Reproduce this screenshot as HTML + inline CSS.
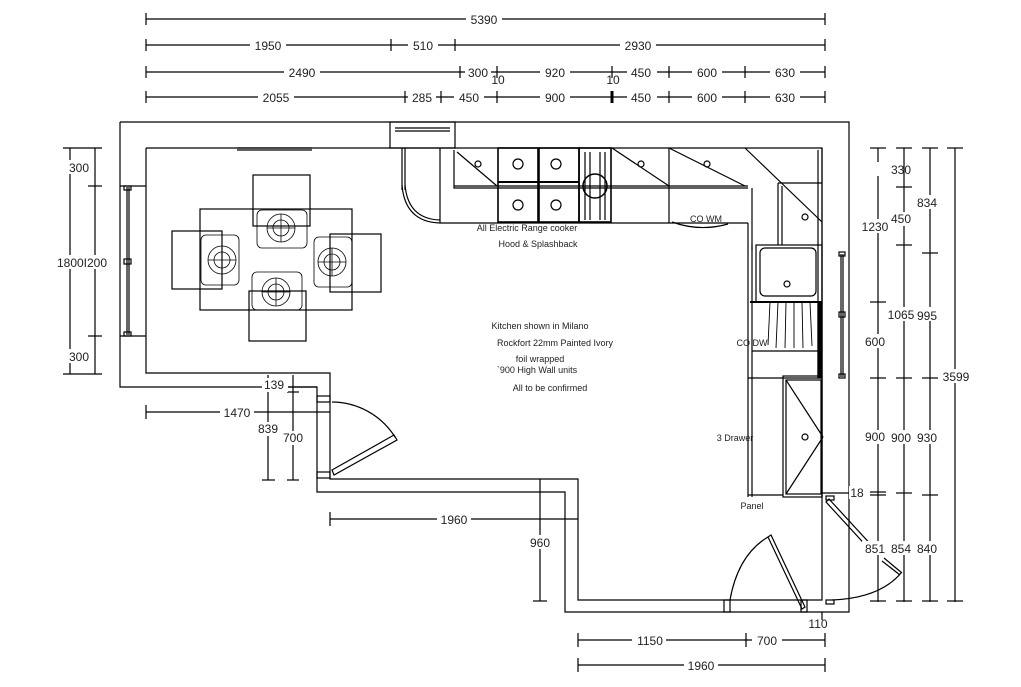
<!DOCTYPE html><html><head><style>body{margin:0;background:#fff}svg{display:block}text{font-family:"Liberation Sans",sans-serif;fill:#222}</style></head><body>
<svg width="1021" height="687" viewBox="0 0 1021 687" stroke="#000" fill="none" stroke-width="1.2">
<!-- top dims -->
<g>
<line x1="146" y1="19" x2="825" y2="19"/><line x1="146" y1="13" x2="146" y2="25"/><line x1="825" y1="13" x2="825" y2="25"/>
<line x1="146" y1="45" x2="825" y2="45"/><line x1="146" y1="39" x2="146" y2="51"/><line x1="391" y1="39" x2="391" y2="51"/><line x1="455" y1="39" x2="455" y2="51"/><line x1="825" y1="39" x2="825" y2="51"/>
<line x1="146" y1="72" x2="825" y2="72"/><line x1="146" y1="66" x2="146" y2="78"/><line x1="460" y1="66" x2="460" y2="78"/><line x1="497" y1="66" x2="497" y2="78"/><line x1="612" y1="66" x2="612" y2="78"/><line x1="669" y1="66" x2="669" y2="78"/><line x1="745" y1="66" x2="745" y2="78"/><line x1="825" y1="66" x2="825" y2="78"/>
<line x1="146" y1="97" x2="825" y2="97"/><line x1="146" y1="91" x2="146" y2="103"/><line x1="405" y1="91" x2="405" y2="103"/><line x1="441" y1="91" x2="441" y2="103"/><line x1="497" y1="91" x2="497" y2="103"/><line x1="612" y1="91" x2="612" y2="103" stroke-width="3"/><line x1="669" y1="91" x2="669" y2="103"/><line x1="745" y1="91" x2="745" y2="103"/><line x1="825" y1="91" x2="825" y2="103"/>
</g>
<g stroke="none" font-size="12" text-anchor="middle">
<rect x="466" y="12" width="36" height="14" fill="#fff"/><text x="484" y="24">5390</text>
<rect x="250" y="38" width="36" height="14" fill="#fff"/><text x="268" y="50">1950</text>
<rect x="408" y="38" width="30" height="14" fill="#fff"/><text x="423" y="50">510</text>
<rect x="620" y="38" width="36" height="14" fill="#fff"/><text x="638" y="50">2930</text>
<rect x="284" y="65" width="36" height="14" fill="#fff"/><text x="302" y="77">2490</text>
<rect x="465" y="65" width="26" height="14" fill="#fff"/><text x="478" y="77">300</text>
<text x="498" y="84">10</text>
<rect x="540" y="65" width="30" height="14" fill="#fff"/><text x="555" y="77">920</text>
<text x="613" y="84">10</text>
<rect x="627" y="65" width="30" height="14" fill="#fff"/><text x="641" y="77">450</text>
<rect x="692" y="65" width="30" height="14" fill="#fff"/><text x="707" y="77">600</text>
<rect x="770" y="65" width="30" height="14" fill="#fff"/><text x="785" y="77">630</text>
<rect x="258" y="90" width="36" height="14" fill="#fff"/><text x="276" y="102">2055</text>
<rect x="408" y="90" width="28" height="14" fill="#fff"/><text x="422" y="102">285</text>
<rect x="454" y="90" width="30" height="14" fill="#fff"/><text x="469" y="102">450</text>
<rect x="540" y="90" width="30" height="14" fill="#fff"/><text x="555" y="102">900</text>
<rect x="627" y="90" width="30" height="14" fill="#fff"/><text x="641" y="102">450</text>
<rect x="692" y="90" width="30" height="14" fill="#fff"/><text x="707" y="102">600</text>
<rect x="770" y="90" width="30" height="14" fill="#fff"/><text x="785" y="102">630</text>
</g>
<!-- walls -->
<polyline points="120,122 849,122 849,612 565,612 565,492 317,492 317,387 120,387 120,122"/>
<polyline points="146,148 822,148 822,600 578,600 578,479 330,479 330,373 146,373 146,148"/>
<rect x="390" y="122" width="65" height="26"/><line x1="395" y1="128" x2="450" y2="128"/><line x1="395" y1="131" x2="450" y2="131"/>
<line x1="237" y1="148" x2="312" y2="148"/><line x1="237" y1="150" x2="312" y2="150"/>
<!-- left window -->
<line x1="120" y1="186" x2="146" y2="186"/><line x1="120" y1="336" x2="146" y2="336"/>
<line x1="127" y1="187" x2="127" y2="335"/><line x1="129" y1="187" x2="129" y2="335"/>
<rect x="124" y="186" width="7" height="4"/><rect x="124" y="259" width="7" height="5"/><rect x="124" y="332" width="7" height="4"/>
<!-- right window -->
<line x1="841" y1="254" x2="841" y2="377"/><line x1="843" y1="254" x2="843" y2="377"/>
<rect x="839" y="252" width="6" height="4"/><rect x="839" y="312" width="6" height="5"/><rect x="839" y="374" width="6" height="4"/>
<!-- table -->
<rect x="200" y="209" width="152" height="101"/>
<rect x="253" y="175" width="57" height="51"/><rect x="172" y="231" width="50" height="58"/><rect x="330" y="234" width="51" height="58"/><rect x="249" y="291" width="57" height="50"/>
<g stroke-width="0.8">
<rect x="257" y="210" width="50" height="38" rx="5"/><circle cx="281" cy="228" r="14"/><circle cx="281" cy="228" r="8"/><line x1="267" y1="228" x2="295" y2="228"/><line x1="281" y1="214" x2="281" y2="242"/>
<rect x="201" y="235" width="38" height="50" rx="5"/><circle cx="222" cy="260" r="14"/><circle cx="222" cy="260" r="8"/><line x1="208" y1="260" x2="236" y2="260"/><line x1="222" y1="246" x2="222" y2="274"/>
<rect x="314" y="237" width="38" height="50" rx="5"/><circle cx="332" cy="262" r="14"/><circle cx="332" cy="262" r="8"/><line x1="318" y1="262" x2="346" y2="262"/><line x1="332" y1="248" x2="332" y2="276"/>
<rect x="252" y="272" width="50" height="38" rx="5"/><circle cx="276" cy="292" r="14"/><circle cx="276" cy="292" r="8"/><line x1="262" y1="292" x2="290" y2="292"/><line x1="276" y1="278" x2="276" y2="306"/>
</g>
<!-- top cabinets -->
<line x1="402" y1="148" x2="402" y2="190"/><line x1="405" y1="148" x2="405" y2="190"/>
<path d="M402 185 Q405 222 440 223 L748 223"/><path d="M405 185 Q408 219 440 220"/>
<line x1="440" y1="148" x2="440" y2="223"/>
<polyline points="454,150 454,188 748,188"/><line x1="454" y1="186" x2="748" y2="186"/>
<line x1="457" y1="152" x2="497" y2="186"/><circle cx="478" cy="164" r="3"/>
<rect x="498" y="148" width="40" height="74" stroke-width="1.6"/><rect x="539" y="148" width="40" height="74" stroke-width="1.6"/><rect x="579" y="148" width="32" height="74" stroke-width="1.6"/>
<circle cx="518" cy="164" r="5"/><circle cx="518" cy="205" r="5"/><circle cx="556" cy="164" r="5"/><circle cx="556" cy="205" r="5"/>
<line x1="498" y1="182" x2="579" y2="182" stroke-width="2"/>
<circle cx="595" cy="186" r="12" stroke-width="1.5"/><line x1="585" y1="152" x2="585" y2="220"/><line x1="590" y1="152" x2="590" y2="220"/><line x1="600" y1="152" x2="600" y2="220"/><line x1="605" y1="152" x2="605" y2="220"/>
<line x1="612" y1="148" x2="669" y2="186"/><circle cx="641" cy="164" r="3"/>
<line x1="669" y1="148" x2="669" y2="223"/><line x1="669" y1="148" x2="745" y2="186"/><circle cx="707" cy="164" r="3"/>
<path d="M672 222 Q700 232 728 224"/>
<!-- corner -->
<line x1="745" y1="148" x2="822" y2="222"/><circle cx="805" cy="217" r="3"/>
<polyline points="752,188 752,250"/><polyline points="778,183 778,245"/><polyline points="778,183 822,183"/><line x1="782" y1="186" x2="782" y2="245"/>
<line x1="822" y1="148" x2="822" y2="497"/><line x1="818" y1="150" x2="818" y2="378"/>
<!-- right run -->
<line x1="748" y1="223" x2="748" y2="497"/><line x1="752" y1="245" x2="752" y2="497"/>
<rect x="756" y="245" width="66" height="57"/><rect x="760" y="248" width="56" height="48" rx="5"/><circle cx="787" cy="284" r="3"/>
<line x1="750" y1="302" x2="822" y2="302" stroke-width="2"/>
<rect x="818" y="302" width="4" height="76" fill="#000"/>
<g stroke-width="0.9"><line x1="770" y1="302" x2="768" y2="345"/><line x1="778" y1="302" x2="776" y2="348"/><line x1="786" y1="302" x2="785" y2="348"/><line x1="794" y1="302" x2="794" y2="348"/><line x1="802" y1="302" x2="803" y2="348"/><line x1="810" y1="302" x2="812" y2="346"/></g>
<line x1="752" y1="351" x2="818" y2="351"/>
<line x1="748" y1="378" x2="822" y2="378"/>
<rect x="783" y="376" width="39" height="121"/><rect x="786" y="380" width="35" height="114"/>
<line x1="786" y1="380" x2="823" y2="437"/><line x1="786" y1="494" x2="823" y2="437"/><circle cx="805" cy="437" r="3"/>
<line x1="748" y1="495" x2="783" y2="495"/>
<!-- left door -->
<rect x="317" y="396" width="13" height="6"/><rect x="317" y="472" width="13" height="6"/>
<path d="M332 402 A75 75 0 0 1 395 437"/>
<polygon points="332,470 394,435 397,440 334,475"/>
<!-- right door -->
<rect x="826" y="496" width="8" height="4"/><rect x="826" y="600" width="8" height="4"/>
<polygon points="829,499 874,548 871,551 826,502"/>
<line x1="884" y1="558" x2="902" y2="573"/><line x1="882" y1="561" x2="900" y2="575"/>
<path d="M832 600 Q880 598 901 573"/>
<!-- bottom door -->
<rect x="724" y="600" width="6" height="12"/><rect x="801" y="600" width="6" height="12"/>
<polygon points="768,537 771,535 805,607 802,609"/>
<path d="M730 600 Q738 555 768 537"/>
<!-- right dims -->
<g>
<line x1="878" y1="148" x2="878" y2="602"/><line x1="904" y1="148" x2="904" y2="602"/><line x1="930" y1="148" x2="930" y2="602"/><line x1="955" y1="148" x2="955" y2="602"/>
<line x1="870" y1="148" x2="886" y2="148"/><line x1="870" y1="302" x2="886" y2="302"/><line x1="870" y1="378" x2="886" y2="378"/><line x1="870" y1="492" x2="886" y2="492"/><line x1="870" y1="495" x2="886" y2="495"/><line x1="870" y1="601" x2="886" y2="601"/>
<line x1="896" y1="148" x2="912" y2="148"/><line x1="896" y1="187" x2="912" y2="187"/><line x1="896" y1="245" x2="912" y2="245"/><line x1="896" y1="378" x2="912" y2="378"/><line x1="896" y1="493" x2="912" y2="493"/><line x1="896" y1="601" x2="912" y2="601"/>
<line x1="922" y1="148" x2="938" y2="148"/><line x1="922" y1="253" x2="938" y2="253"/><line x1="922" y1="378" x2="938" y2="378"/><line x1="922" y1="495" x2="938" y2="495"/><line x1="922" y1="601" x2="938" y2="601"/>
<line x1="947" y1="148" x2="963" y2="148"/><line x1="947" y1="601" x2="963" y2="601"/>
<line x1="822" y1="493" x2="860" y2="493"/>
</g>
<!-- left dims -->
<line x1="70" y1="148" x2="70" y2="374"/><line x1="95" y1="148" x2="95" y2="374"/>
<line x1="63" y1="148" x2="102" y2="148"/><line x1="88" y1="186" x2="102" y2="186"/><line x1="88" y1="336" x2="102" y2="336"/><line x1="63" y1="374" x2="102" y2="374"/>
<!-- lower dims -->
<line x1="146" y1="412" x2="330" y2="412"/><line x1="146" y1="405" x2="146" y2="419"/>
<line x1="268" y1="375" x2="268" y2="480"/><line x1="262" y1="480" x2="275" y2="480"/>
<line x1="293" y1="375" x2="293" y2="480"/><line x1="287" y1="480" x2="299" y2="480"/><line x1="287" y1="392" x2="299" y2="392"/>
<line x1="268" y1="387" x2="317" y2="387"/>
<line x1="330" y1="519" x2="578" y2="519"/><line x1="330" y1="512" x2="330" y2="526"/>
<line x1="540" y1="479" x2="540" y2="601"/><line x1="533" y1="601" x2="547" y2="601"/>
<line x1="578" y1="640" x2="825" y2="640"/><line x1="578" y1="633" x2="578" y2="647"/><line x1="746" y1="633" x2="746" y2="647"/><line x1="825" y1="633" x2="825" y2="647"/>
<line x1="578" y1="665" x2="825" y2="665"/><line x1="578" y1="658" x2="578" y2="672"/><line x1="825" y1="658" x2="825" y2="672"/>
<line x1="822" y1="612" x2="822" y2="620"/>
<g stroke="none" font-size="12" text-anchor="middle">
<rect x="870" y="162" width="28" height="14" fill="#fff"/><text x="901" y="174">330</text>
<rect x="860" y="219" width="30" height="14" fill="#fff"/><text x="875" y="231">1230</text><rect x="888" y="212" width="26" height="14" fill="#fff"/><text x="901" y="223">450</text>
<rect x="916" y="195" width="28" height="14" fill="#fff"/><text x="927" y="207">834</text>
<rect x="886" y="307" width="54" height="14" fill="#fff"/><text x="901" y="319">1065</text><text x="927" y="320">995</text>
<rect x="864" y="334" width="24" height="14" fill="#fff"/><text x="875" y="346">600</text>
<rect x="940" y="369" width="32" height="14" fill="#fff"/><text x="956" y="381">3599</text>
<rect x="862" y="430" width="78" height="14" fill="#fff"/><text x="875" y="441">900</text><text x="901" y="442">900</text><text x="927" y="442">930</text>
<rect x="862" y="541" width="78" height="14" fill="#fff"/><text x="875" y="553">851</text><text x="901" y="553">854</text><text x="927" y="553">840</text>
<rect x="849" y="486" width="16" height="13" fill="#fff"/><text x="857" y="497">18</text>
<rect x="62" y="160" width="26" height="14" fill="#fff"/><text x="79" y="172">300</text>
<rect x="56" y="255" width="52" height="14" fill="#fff"/><text x="82" y="267">1800I200</text>
<rect x="62" y="349" width="26" height="14" fill="#fff"/><text x="79" y="361">300</text>
<rect x="262" y="378" width="26" height="14" fill="#fff"/><text x="274" y="389">139</text>
<rect x="220" y="405" width="34" height="14" fill="#fff"/><text x="237" y="417">1470</text>
<rect x="256" y="422" width="24" height="14" fill="#fff"/><text x="268" y="433">839</text>
<rect x="281" y="431" width="24" height="14" fill="#fff"/><text x="293" y="442">700</text>
<rect x="437" y="512" width="34" height="14" fill="#fff"/><text x="454" y="524">1960</text>
<rect x="527" y="535" width="26" height="14" fill="#fff"/><text x="540" y="547">960</text>
<rect x="632" y="633" width="34" height="14" fill="#fff"/><text x="650" y="645">1150</text>
<rect x="752" y="633" width="30" height="14" fill="#fff"/><text x="767" y="645">700</text>
<text x="818" y="628">110</text>
<rect x="684" y="658" width="34" height="14" fill="#fff"/><text x="701" y="670">1960</text>
</g>
<g stroke="none" font-size="9" text-anchor="middle">
<text x="527" y="231">All Electric Range cooker</text><text x="538" y="247">Hood &amp; Splashback</text>
<text x="706" y="222">CO WM</text><text x="752" y="346">CO DW</text><text x="735" y="441">3 Drawer</text><text x="752" y="509">Panel</text>
<text x="540" y="329">Kitchen shown in Milano</text><text x="555" y="346">Rockfort 22mm Painted Ivory</text>
<text x="540" y="362">foil wrapped</text><text x="537" y="373">`900 High Wall units</text><text x="550" y="391">All to be confirmed</text>
</g>
</svg></body></html>
